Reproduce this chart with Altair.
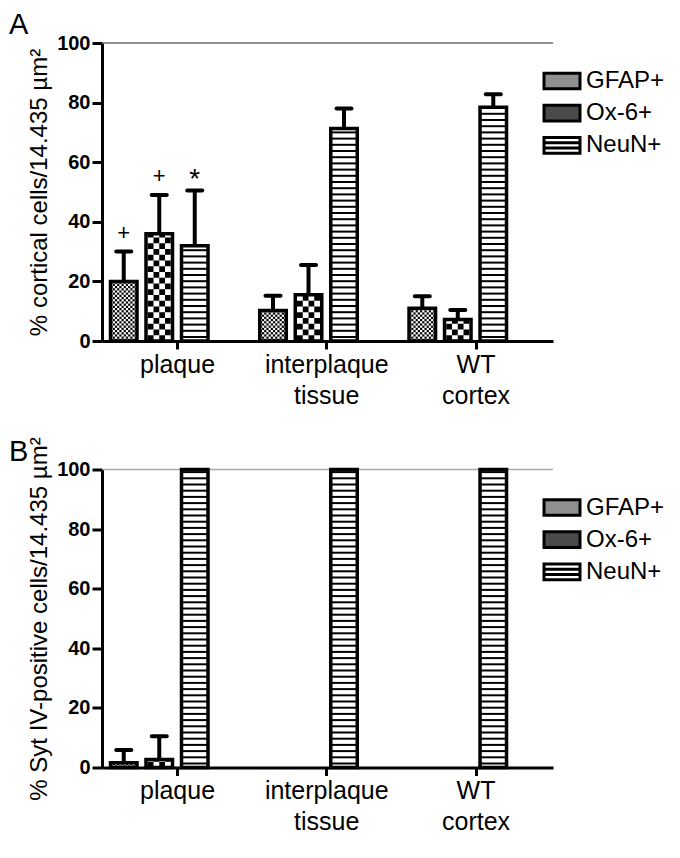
import json
import math
import altair as alt
import pandas as pd

# ---------------- data ----------------
categories = ["plaque", "interplaque tissue", "WT cortex"]
series = ["GFAP+", "Ox-6+", "NeuN+"]

# Panel A: % cortical cells / 14.435 um^2
a_gfap = [20.0, 10.2, 11.0]
a_ox6 = [36.0, 15.5, 7.2]
a_neun = [32.0, 71.3, 78.4]
a_gfap_err = [10.0, 5.0, 4.0]
a_ox6_err = [13.0, 10.0, 3.2]
a_neun_err = [18.5, 6.7, 4.4]
a_marks_plaque = ["+", "+", "*"]

# Panel B: % Syt IV-positive cells / 14.435 um^2
b_gfap = [1.6, 0.0, 0.0]
b_ox6 = [2.7, 0.0, 0.0]
b_neun = [100.0, 100.0, 100.0]
b_gfap_err = [4.3, 0.0, 0.0]
b_ox6_err = [7.8, 0.0, 0.0]
b_neun_err = [0.0, 0.0, 0.0]

y_ticks = [0, 20, 40, 60, 80, 100]
a_title = "% cortical cells/14.435 µm²"
b_title = "% Syt IV-positive cells/14.435 µm²"
panel_labels = ["A", "B"]

# ---------------- layout / style ----------------
FONT = "Liberation Sans"
W, H = 451, 298
X_DOMAIN = [-0.5025, 2.519]
PXX = W / (X_DOMAIN[1] - X_DOMAIN[0])   # px per x unit
PXY = H / 100.0                          # px per y unit
PITCH = 35.5 / PXX
HALF = 13.25 / PXX
STROKE = 3.5


def build_bars(means, errs, marks):
    rows = []
    for ci, cat in enumerate(categories):
        for si, s in enumerate(series):
            v = means[si][ci]
            e = errs[si][ci]
            xc = ci + (si - 1.5) * PITCH
            rows.append(dict(category=cat, series=s, value=v, err=e,
                             top=v + e, xc=xc, x1=xc - HALF, x2=xc + HALF,
                             base=0.0,
                             mark=(marks[si] if (marks and ci == 0) else "")))
    return pd.DataFrame(rows)


def build_cells(bars):
    out = []
    for _, b in bars.iterrows():
        v = b["value"]
        if v <= 0:
            continue
        x1, x2 = b["x1"], b["x2"]
        wpx = (x2 - x1) * PXX
        if b["series"] == "GFAP+":
            c = 2.2
            ncol = math.ceil(wpx / c)
            nrow = math.ceil(v * PXY / c)
            for r in range(nrow):
                for k in range(ncol):
                    if (r + k) % 2 == 0:
                        cx1 = x1 + k * c / PXX
                        cx2 = min(cx1 + c / PXX, x2)
                        cy1 = r * c / PXY
                        cy2 = min(cy1 + c / PXY, v)
                        out.append(dict(cx1=cx1, cx2=cx2, cy1=cy1, cy2=cy2))
        elif b["series"] == "Ox-6+":
            inner = (wpx - STROKE)
            c = inner / 4.0
            start = x1 + (STROKE / 2) / PXX
            nrow = math.ceil(v * PXY / c)
            for r in range(nrow):
                for k in range(4):
                    if (r + k) % 2 == 0:
                        cx1 = start + k * c / PXX
                        cx2 = cx1 + c / PXX
                        cy1 = r * c / PXY
                        cy2 = min(cy1 + c / PXY, v)
                        out.append(dict(cx1=cx1, cx2=cx2, cy1=cy1, cy2=cy2))
        else:
            period, thick, off = 6.2, 2.0, 3.0
            k = 0
            while True:
                cy1 = (off + k * period) / PXY
                if cy1 >= v:
                    break
                cy2 = min(cy1 + thick / PXY, v)
                out.append(dict(cx1=x1, cx2=x2, cy1=cy1, cy2=cy2))
                k += 1
    return pd.DataFrame(out)


label_lines = [c.split(" ") for c in categories]
LABEL_EXPR = json.dumps(label_lines) + "[round(datum.value)]"

RECT = "M-1.6,-0.7H1.6V0.7H-1.6Z"
STRIPED = RECT + "M-1.6,-0.23H1.6M-1.6,0.23H1.6"


def panel(bars, letter, title, ref_color):
    cells = build_cells(bars)
    xs = alt.Scale(domain=X_DOMAIN, nice=False, zero=False)
    ys = alt.Scale(domain=[0, 100], nice=False)

    x_axis = alt.Axis(values=[0, 1, 2], labelExpr=LABEL_EXPR, title=None,
                      grid=False, domainColor="black", domainWidth=3,
                      tickColor="black", tickWidth=3, tickSize=8,
                      labelPadding=3, labelFont=FONT, labelFontSize=25,
                      labelColor="black", labelLineHeight=31, labelAngle=0,
                      labelFlush=False, labelOverlap=False)
    y_axis = alt.Axis(values=y_ticks, title=title, grid=False,
                      domainColor="black", domainWidth=3,
                      tickColor="black", tickWidth=3, tickSize=10,
                      labelPadding=2, labelFont=FONT, labelFontSize=20,
                      labelFontWeight="bold", labelColor="black",
                      labelFlush=False,
                      titleFont=FONT, titleFontSize=24,
                      titleFontWeight="normal", titleColor="black",
                      titleAngle=270, titleX=-56, titleY=H / 2,
                      titleBaseline="alphabetic", titleAlign="center")

    leg = alt.Legend(orient="none", legendX=447, legendY=25, title=None,
                     symbolSize=506, symbolStrokeWidth=3,
                     symbolOpacity=1,
                     labelFont=FONT, labelFontSize=24, labelColor="black",
                     labelOffset=11, rowPadding=4.2, padding=0)

    def X(f):
        return alt.X(f, scale=xs, axis=x_axis)

    def Y(f):
        return alt.Y(f, scale=ys, axis=y_axis)

    ref = alt.Chart(pd.DataFrame({"ref": [100.0]})).mark_rule(
        color=ref_color, strokeWidth=1.5
    ).encode(y=Y("ref:Q"))

    carrier = alt.Chart(bars).mark_point(
        filled=True, size=0, opacity=1, strokeWidth=3
    ).encode(
        x=X("xc:Q"),
        y=Y("base:Q"),
        fill=alt.Fill("series:N", legend=leg,
                      scale=alt.Scale(domain=series,
                                      range=["#8f8f8f", "#4a4a4a", "#ffffff"])),
        shape=alt.Shape("series:N", legend=leg,
                        scale=alt.Scale(domain=series,
                                        range=[RECT, RECT, STRIPED])),
        stroke=alt.Stroke("series:N", legend=leg,
                          scale=alt.Scale(domain=series,
                                          range=["#000000", "#000000", "#000000"])),
    )

    pos = alt.Chart(bars).transform_filter("datum.value > 0")

    white = pos.mark_rect(fill="white").encode(
        x=X("x1:Q"), x2="x2:Q", y=Y("base:Q"), y2="value:Q")

    pattern = alt.Chart(cells).mark_rect(fill="black").encode(
        x=X("cx1:Q"), x2="cx2:Q", y=Y("cy1:Q"), y2="cy2:Q")

    errs = alt.Chart(bars).transform_filter("datum.err > 0")
    stems = errs.mark_rule(color="black", strokeWidth=4).encode(
        x=X("xc:Q"), y=Y("value:Q"), y2="top:Q")
    caps = errs.mark_tick(orient="horizontal", size=19, thickness=4,
                          color="black", opacity=1, cornerRadius=2).encode(
        x=X("xc:Q"), y=Y("top:Q"))

    outline = pos.mark_rect(fillOpacity=0, stroke="black",
                            strokeWidth=STROKE).encode(
        x=X("x1:Q"), x2="x2:Q", y=Y("base:Q"), y2="value:Q")

    plus = alt.Chart(bars).transform_filter("datum.mark == '+'").mark_text(
        font=FONT, fontSize=22, color="black", baseline="middle", dy=-19
    ).encode(x=X("xc:Q"), y=Y("top:Q"), text="mark:N")
    star = alt.Chart(bars).transform_filter("datum.mark == '*'").mark_text(
        font=FONT, fontSize=28, color="black", baseline="middle", dy=-11
    ).encode(x=X("xc:Q"), y=Y("top:Q"), text="mark:N")

    let = alt.Chart(pd.DataFrame({"t": [letter]})).mark_text(
        font=FONT, fontSize=29, color="black", align="left", baseline="top"
    ).encode(x=alt.value(-93), y=alt.value(-32), text="t:N")

    return alt.layer(ref, carrier, white, pattern, stems, caps, outline,
                     plus, star, let).properties(width=W, height=H)


bars_a = build_bars([a_gfap, a_ox6, a_neun],
                    [a_gfap_err, a_ox6_err, a_neun_err], a_marks_plaque)
bars_b = build_bars([b_gfap, b_ox6, b_neun],
                    [b_gfap_err, b_ox6_err, b_neun_err], None)

pa = panel(bars_a, panel_labels[0], a_title, "#6e6e6e")
pb = panel(bars_b, panel_labels[1], b_title, "#ababab")

chart = alt.vconcat(pa, pb, spacing=128.5, bounds="flush").resolve_scale(
    x="independent", y="independent", fill="independent",
    shape="independent", stroke="independent"
).resolve_legend(fill="independent", shape="independent",
                 stroke="independent").configure_view(
    stroke="transparent"
).properties(padding={"left": 0, "top": 2, "right": 2, "bottom": 2})

chart.save("out.html", embed_options={"renderer": "svg", "actions": False})
